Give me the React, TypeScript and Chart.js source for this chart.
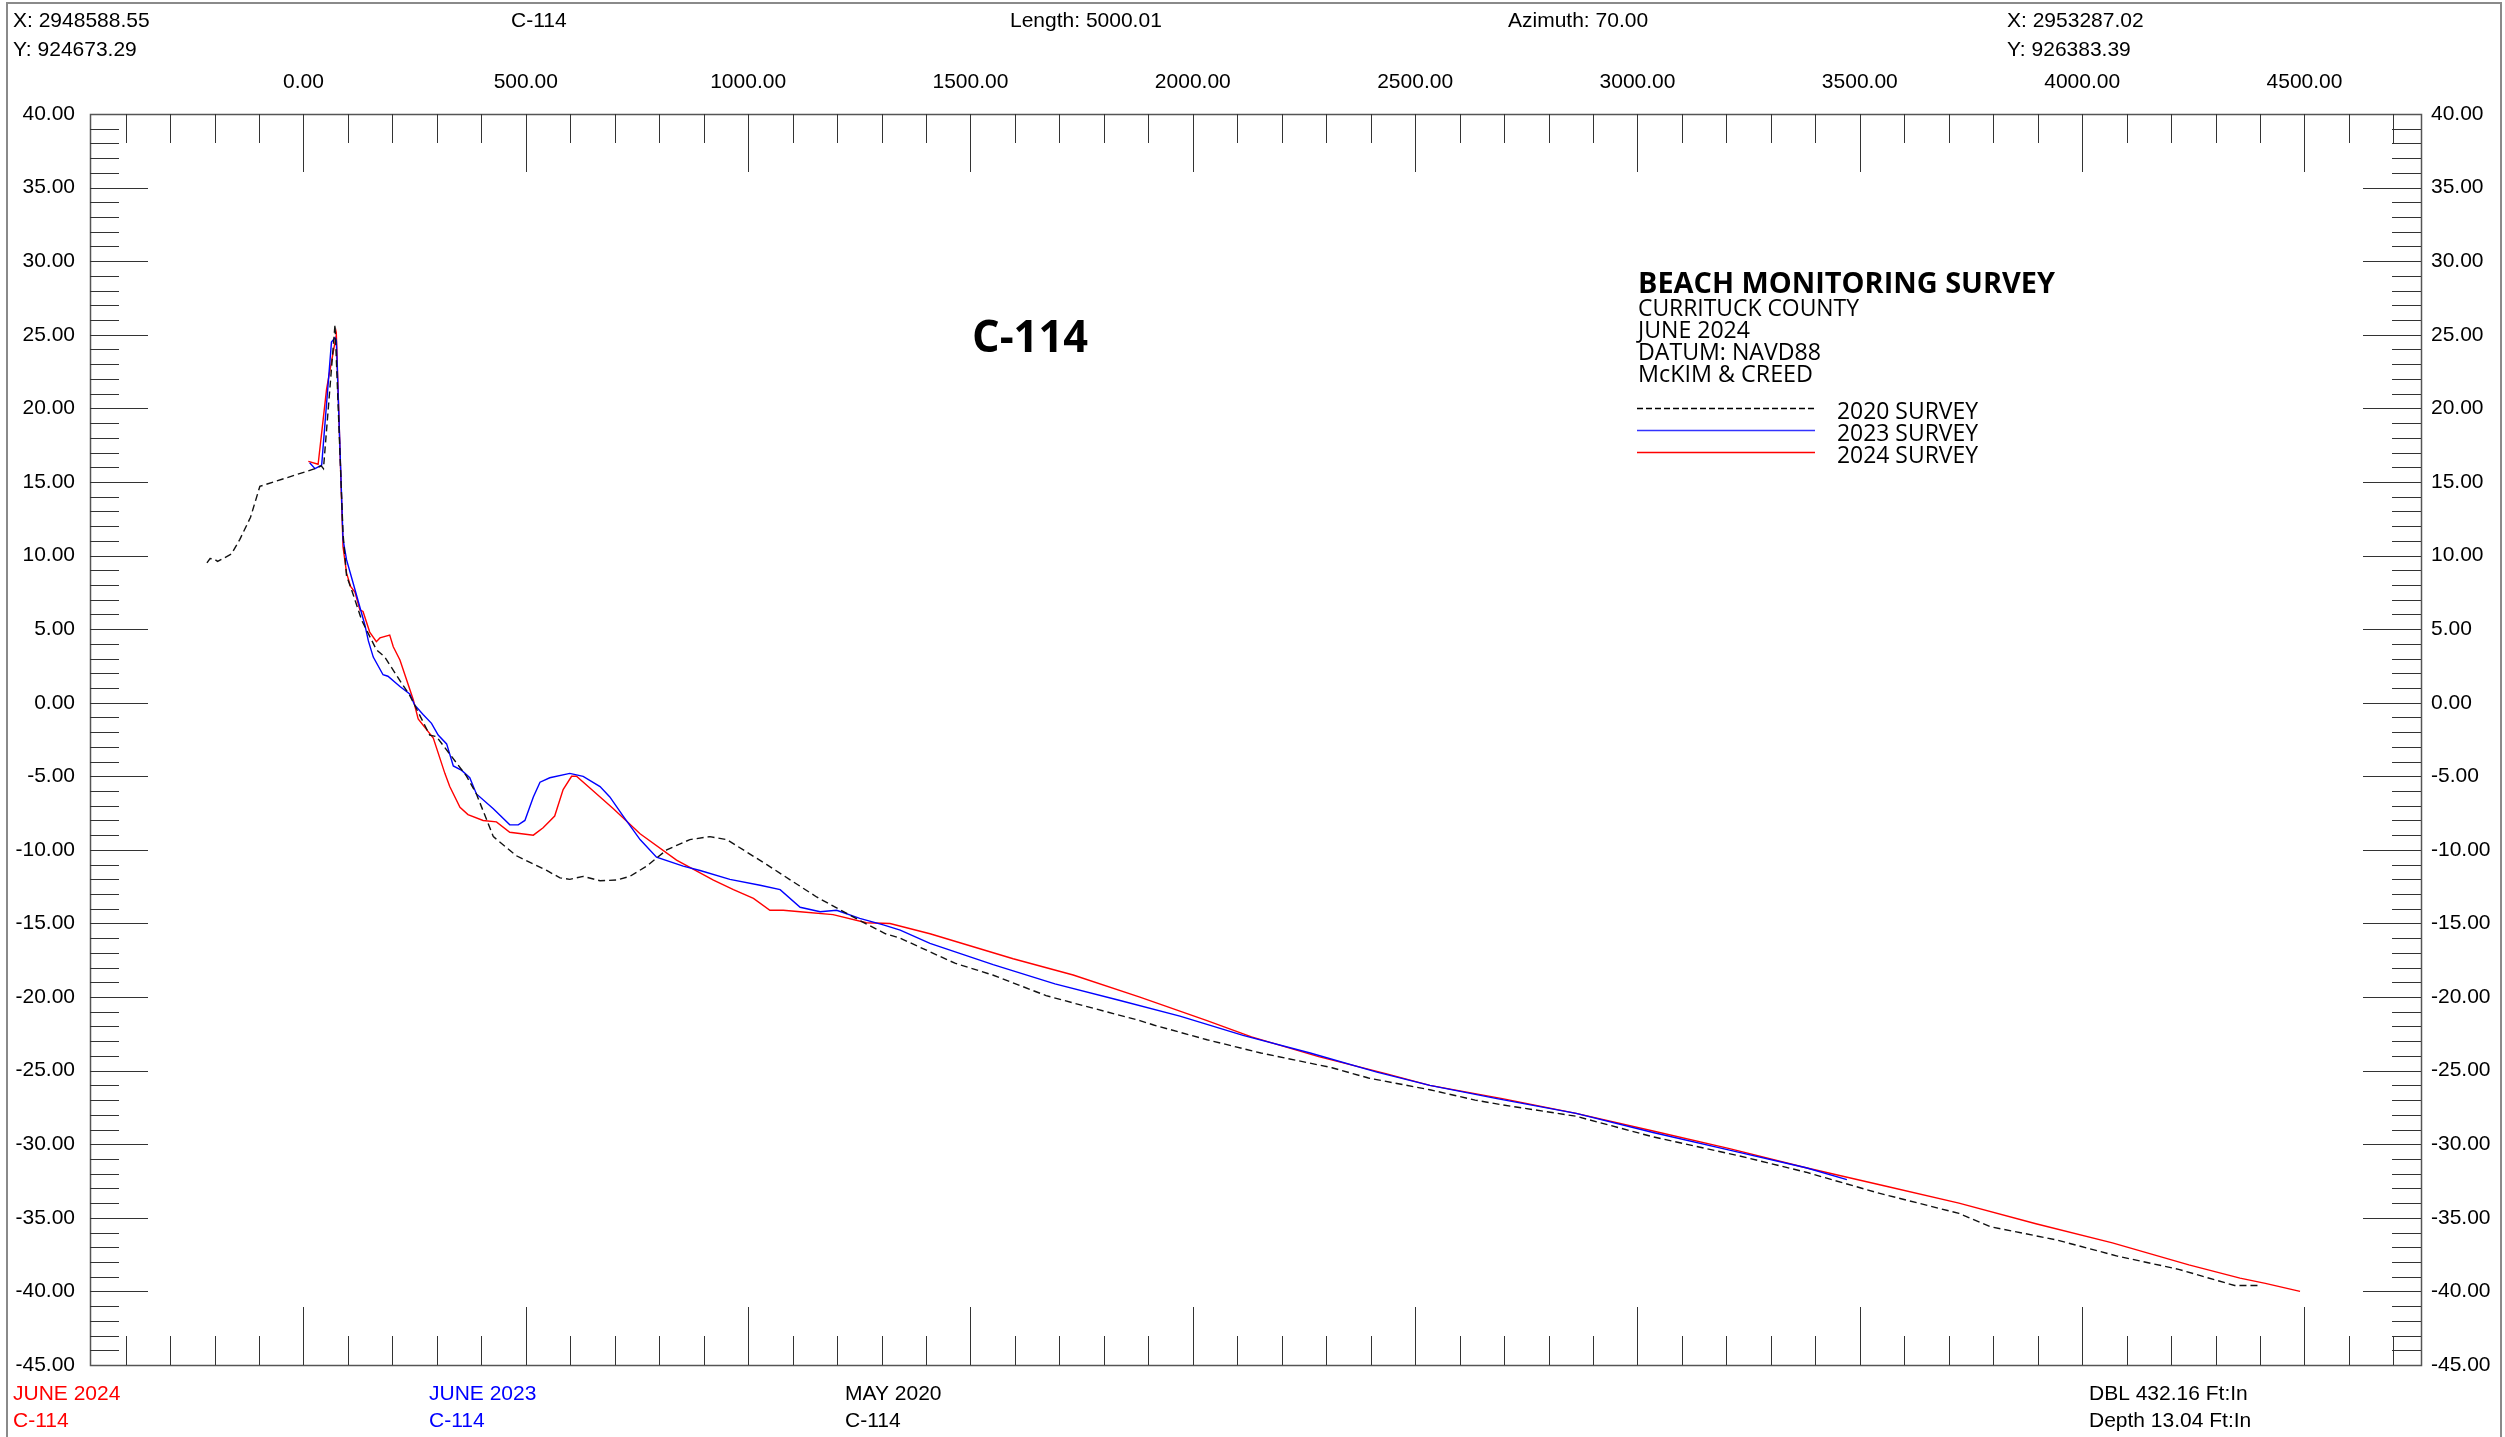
import React, { useEffect, useRef } from 'react';
import { Chart, registerables } from 'chart.js';

Chart.register(...registerables);

// ---------------- DATA ----------------
const S2020_X = [-217, -210, -200, -193, -162, -143, -119, -98, 26, 40, 45, 71, 89, 97, 108, 131, 164, 183, 217, 239, 284, 299, 367, 389, 427, 479, 547, 577, 599, 629, 667, 704, 734, 772, 817, 869, 914, 952, 1042, 1154, 1251, 1309, 1342, 1465, 1550, 1670, 1731, 1881, 1912, 2032, 2153, 2313, 2395, 2533, 2635, 2691, 2862, 3035, 3230, 3379, 3540, 3723, 3793, 3942, 4079, 4217, 4274, 4343, 4395];
const S2020_Y = [9.5, 9.8, 9.75, 9.6, 10.1, 11.1, 12.6, 14.7, 15.9, 16.1, 15.9, 25.7, 11.5, 8.6, 7.7, 5.6, 3.6, 3.1, 1.5, 0.5, -2.2, -2.3, -5.0, -6.2, -9.1, -10.4, -11.4, -11.9, -12.0, -11.8, -12.1, -12.05, -11.8, -11.1, -10.0, -9.3, -9.1, -9.3, -11.0, -13.2, -14.8, -15.7, -16.0, -17.7, -18.5, -19.9, -20.4, -21.6, -21.9, -22.9, -23.8, -24.8, -25.5, -26.3, -27.0, -27.3, -28.1, -29.5, -30.8, -31.9, -33.3, -34.7, -35.6, -36.5, -37.6, -38.5, -39.0, -39.6, -39.6];

const S2023_X = [14, 26, 41, 63, 71, 74, 89, 97, 112, 138, 146, 157, 179, 190, 217, 239, 250, 269, 288, 303, 322, 337, 356, 374, 389, 427, 464, 483, 498, 517, 532, 554, 599, 629, 667, 689, 719, 757, 794, 854, 892, 959, 1027, 1072, 1117, 1162, 1199, 1251, 1304, 1342, 1409, 1551, 1690, 1832, 1971, 2113, 2264, 2414, 2533, 2684, 2862, 3035, 3207, 3379, 3471];
const S2023_Y = [16.3, 15.9, 16.15, 24.5, 24.8, 24.6, 11.1, 9.7, 8.1, 5.3, 4.2, 3.1, 1.9, 1.8, 1.1, 0.6, -0.15, -0.8, -1.4, -2.2, -2.8, -4.3, -4.6, -5.1, -6.2, -7.2, -8.3, -8.3, -8.0, -6.4, -5.4, -5.1, -4.8, -5.0, -5.7, -6.4, -7.7, -9.3, -10.5, -11.1, -11.4, -12.0, -12.4, -12.7, -13.9, -14.2, -14.1, -14.65, -15.1, -15.45, -16.35, -17.8, -19.1, -20.2, -21.3, -22.6, -23.8, -25.1, -26.0, -26.9, -27.9, -29.2, -30.4, -31.6, -32.4];

const S2024_X = [11, 33, 52, 74, 89, 97, 106, 116, 127, 134, 149, 164, 172, 194, 202, 217, 247, 258, 292, 318, 329, 352, 370, 404, 434, 464, 517, 539, 565, 584, 603, 614, 648, 697, 757, 839, 922, 967, 1012, 1049, 1079, 1117, 1191, 1266, 1319, 1409, 1596, 1731, 1881, 2032, 2132, 2283, 2434, 2533, 2696, 2862, 3035, 3207, 3379, 3552, 3723, 3896, 4068, 4240, 4355, 4412, 4490];
const S2024_Y = [16.4, 16.2, 21.3, 25.0, 10.6, 8.8, 7.9, 7.5, 6.3, 6.2, 4.8, 4.15, 4.4, 4.6, 3.8, 2.9, 0.2, -1.1, -2.4, -4.8, -5.7, -7.1, -7.6, -8.0, -8.1, -8.8, -9.0, -8.5, -7.7, -5.9, -5.0, -5.0, -5.9, -7.2, -8.9, -10.7, -12.05, -12.7, -13.3, -14.1, -14.1, -14.2, -14.4, -14.95, -15.0, -15.7, -17.4, -18.5, -20.0, -21.6, -22.7, -24.05, -25.2, -26.0, -26.9, -27.9, -29.1, -30.3, -31.6, -32.8, -34.0, -35.4, -36.7, -38.2, -39.1, -39.45, -40.0];

const X_MIN = -480;
const X_MAX = 4762;
const Y_MIN = -45;
const Y_MAX = 40;
const X_LABEL_VALUES = [0, 500, 1000, 1500, 2000, 2500, 3000, 3500, 4000, 4500];
const Y_LABEL_VALUES = [40, 35, 30, 25, 20, 15, 10, 5, 0, -5, -10, -15, -20, -25, -30, -35, -40, -45];
const X_MINOR_START = -400;
const X_MINOR_END = 4700;
const X_MINOR_STEP = 100;
const Y_MINOR_STEP = 1;

const SERIES_NAMES = ['2020 SURVEY', '2023 SURVEY', '2024 SURVEY'];
const TITLE_LINES = ['CURRITUCK COUNTY', 'JUNE 2024', 'DATUM: NAVD88', 'McKIM & CREED'];

const W = 2505;
const H = 1437;
const ARIAL = "'Liberation Sans', Arial, sans-serif";
const SEGOE = "'Open Sans', 'Noto Sans', sans-serif";

function pts(xs: number[], ys: number[]) {
  return xs.map((x, i) => ({ x, y: ys[i] }));
}

function txt(ctx: CanvasRenderingContext2D, s: string, x: number, y: number, font: string, color: string, width?: number) {
  ctx.save();
  ctx.font = font;
  ctx.fillStyle = color;
  ctx.textAlign = 'left';
  ctx.textBaseline = 'alphabetic';
  if (width) {
    const w = ctx.measureText(s).width;
    ctx.translate(x, y);
    ctx.scale(width / w, 1);
    ctx.fillText(s, 0, 0);
  } else {
    ctx.fillText(s, x, y);
  }
  ctx.restore();
}

const decorPlugin = {
  id: 'decor',
  afterDraw(chart: any) {
    const ctx: CanvasRenderingContext2D = chart.ctx;
    const a = chart.chartArea;
    const xs = chart.scales.x;
    const ys = chart.scales.y;
    ctx.save();
    // page border
    ctx.strokeStyle = '#8a8a8a';
    ctx.lineWidth = 2;
    ctx.beginPath();
    ctx.moveTo(7, H + 5);
    ctx.lineTo(7, 3);
    ctx.lineTo(2501, 3);
    ctx.lineTo(2501, H + 5);
    ctx.stroke();

    // frame
    ctx.strokeStyle = '#555';
    ctx.lineWidth = 1.5;
    ctx.strokeRect(Math.round(a.left) + 0.5, Math.round(a.top) + 0.5, Math.round(a.right - a.left), Math.round(a.bottom - a.top));

    // ticks
    ctx.strokeStyle = '#333';
    ctx.lineWidth = 1;
    ctx.beginPath();
    for (let v = X_MINOR_START; v <= X_MINOR_END; v += X_MINOR_STEP) {
      const px = Math.round(xs.getPixelForValue(v)) + 0.5;
      const len = v % 500 === 0 ? 58 : 29;
      ctx.moveTo(px, a.top);
      ctx.lineTo(px, a.top + len);
      ctx.moveTo(px, a.bottom);
      ctx.lineTo(px, a.bottom - len);
    }
    for (let v = Y_MIN + Y_MINOR_STEP; v < Y_MAX; v += Y_MINOR_STEP) {
      const py = Math.round(ys.getPixelForValue(v)) + 0.5;
      const len = v % 5 === 0 ? 58 : 29;
      ctx.moveTo(a.left, py);
      ctx.lineTo(a.left + len, py);
      ctx.moveTo(a.right, py);
      ctx.lineTo(a.right - len, py);
    }
    ctx.stroke();

    // header texts
    const f21 = `21px ${ARIAL}`;
    txt(ctx, 'X: 2948588.55', 13, 27, f21, '#000');
    txt(ctx, 'Y: 924673.29', 13, 56, f21, '#000');
    txt(ctx, 'C-114', 511, 27, f21, '#000');
    txt(ctx, 'Length: 5000.01', 1010, 27, f21, '#000');
    txt(ctx, 'Azimuth: 70.00', 1508, 27, f21, '#000');
    txt(ctx, 'X: 2953287.02', 2007, 27, f21, '#000');
    txt(ctx, 'Y: 926383.39', 2007, 56, f21, '#000');

    // footer texts
    txt(ctx, 'JUNE 2024', 13, 1400, f21, '#ff0000');
    txt(ctx, 'C-114', 13, 1427, f21, '#ff0000');
    txt(ctx, 'JUNE 2023', 429, 1400, f21, '#0000ff');
    txt(ctx, 'C-114', 429, 1427, f21, '#0000ff');
    txt(ctx, 'MAY 2020', 845, 1400, f21, '#000');
    txt(ctx, 'C-114', 845, 1427, f21, '#000');
    txt(ctx, 'DBL 432.16 Ft:In', 2089, 1400, f21, '#000');
    txt(ctx, 'Depth 13.04 Ft:In', 2089, 1427, f21, '#000');

    // big profile title
    txt(ctx, 'C-114', 972, 352, `bold 44px ${SEGOE}`, '#000', 116);

    // title block
    txt(ctx, 'BEACH MONITORING SURVEY', 1638, 293, `bold 29px ${SEGOE}`, '#000', 417);
    const widths = [221, 112, 183, 175];
    const bases = [316, 338, 360, 382];
    TITLE_LINES.forEach((s, i) => txt(ctx, s, 1638, bases[i], `23px ${SEGOE}`, '#000', widths[i]));

    // legend
    const colors = ['#000000', '#3333ff', '#ff0000'];
    const lys = [408, 430, 452];
    SERIES_NAMES.forEach((s, i) => {
      ctx.save();
      ctx.strokeStyle = colors[i];
      ctx.lineWidth = 1.3;
      if (i === 0) ctx.setLineDash([6, 3]);
      ctx.beginPath();
      ctx.moveTo(1637, lys[i] + 0.5);
      ctx.lineTo(1815, lys[i] + 0.5);
      ctx.stroke();
      ctx.restore();
      txt(ctx, s, 1837, lys[i] + 11, `23px ${SEGOE}`, '#000', 141);
    });
    ctx.restore();
  },
};

export default function App() {
  const ref = useRef<HTMLCanvasElement>(null);
  useEffect(() => {
    if (!ref.current) return;
    const tickFont = { family: ARIAL, size: 21 };
    const chart = new Chart(ref.current, {
      type: 'line',
      data: {
        datasets: [
          {
            label: SERIES_NAMES[0],
            data: pts(S2020_X, S2020_Y),
            borderColor: '#111111',
            borderWidth: 1.4,
            borderDash: [7, 4],
            pointRadius: 0,
            fill: false,
            tension: 0,
          },
          {
            label: SERIES_NAMES[1],
            data: pts(S2023_X, S2023_Y),
            borderColor: '#0000ff',
            borderWidth: 1.4,
            pointRadius: 0,
            fill: false,
            tension: 0,
          },
          {
            label: SERIES_NAMES[2],
            data: pts(S2024_X, S2024_Y),
            borderColor: '#ff0000',
            borderWidth: 1.4,
            pointRadius: 0,
            fill: false,
            tension: 0,
          },
        ],
      },
      options: {
        responsive: false,
        maintainAspectRatio: false,
        animation: false,
        devicePixelRatio: 1,
        parsing: false as any,
        normalized: true,
        layout: { padding: { left: 0, right: 0, top: 0, bottom: 72 } },
        plugins: { legend: { display: false }, tooltip: { enabled: false }, title: { display: false } },
        scales: {
          x: {
            type: 'linear',
            position: 'top',
            min: X_MIN,
            max: X_MAX,
            afterBuildTicks: (s: any) => {
              s.ticks = X_LABEL_VALUES.map((v) => ({ value: v }));
            },
            afterFit: (s: any) => {
              s.height = 114;
            },
            grid: { display: false, drawTicks: false },
            border: { display: false },
            ticks: {
              autoSkip: false,
              maxRotation: 0,
              padding: 19,
              color: '#000',
              font: tickFont,
              callback: (v: any) => Number(v).toFixed(2),
            },
          },
          y: {
            type: 'linear',
            position: 'left',
            min: Y_MIN,
            max: Y_MAX,
            afterBuildTicks: (s: any) => {
              s.ticks = Y_LABEL_VALUES.map((v) => ({ value: v }));
            },
            afterFit: (s: any) => {
              s.width = 90;
            },
            grid: { display: false, drawTicks: false },
            border: { display: false },
            ticks: {
              autoSkip: false,
              padding: 15,
              color: '#000',
              font: tickFont,
              callback: (v: any) => Number(v).toFixed(2),
            },
          },
          y2: {
            type: 'linear',
            position: 'right',
            min: Y_MIN,
            max: Y_MAX,
            afterBuildTicks: (s: any) => {
              s.ticks = Y_LABEL_VALUES.map((v) => ({ value: v }));
            },
            afterFit: (s: any) => {
              s.width = 84;
            },
            grid: { display: false, drawTicks: false },
            border: { display: false },
            ticks: {
              autoSkip: false,
              padding: 10,
              color: '#000',
              font: tickFont,
              callback: (v: any) => Number(v).toFixed(2),
            },
          },
        },
      } as any,
      plugins: [decorPlugin],
    });
    return () => chart.destroy();
  }, []);

  return (
    <div style={{ position: 'fixed', left: 0, top: 0, width: W, height: H, background: '#fff' }}>
      <canvas ref={ref} width={W} height={H} style={{ width: W, height: H, display: 'block' }} />
    </div>
  );
}
